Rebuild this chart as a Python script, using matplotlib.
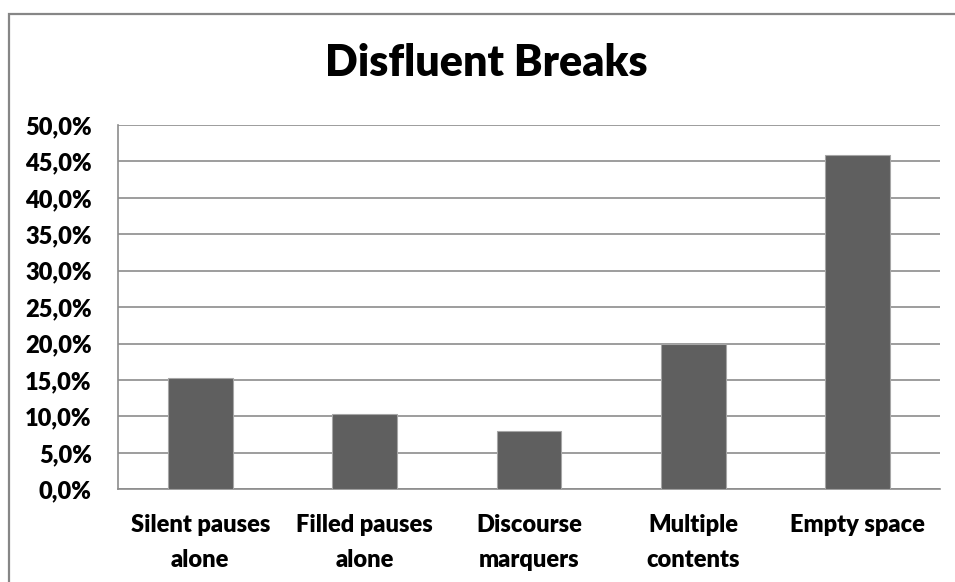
import matplotlib
matplotlib.use("Agg")
import matplotlib.pyplot as plt
from matplotlib.patches import Rectangle

categories = ["Silent pauses\nalone", "Filled pauses\nalone", "Discourse\nmarquers",
              "Multiple\ncontents", "Empty space"]
values = [15.3, 10.3, 8.05, 20.0, 45.9]
yticks = [0, 5, 10, 15, 20, 25, 30, 35, 40, 45, 50]
ytick_labels = [f"{v:.1f}".replace(".", ",") + "%" for v in yticks]
title = "Disfluent Breaks"

plt.rcParams['font.family'] = ['Lato', 'DejaVu Sans']

W, H = 955, 582
fig = plt.figure(figsize=(W / 100, H / 100), dpi=100)
ax = fig.add_axes([118 / W, 1 - 489.3 / H, (940 - 118) / W, (489.3 - 125) / H])

x = list(range(len(categories)))
ax.bar(x, values, width=0.395, color="#5f5f5f", edgecolor="#a6a6a6", linewidth=0.8, zorder=3)
ax.set_xlim(-0.5, len(categories) - 0.5)
ax.set_ylim(0, 50)
ax.set_yticks(yticks)
ax.set_yticklabels(ytick_labels, fontsize=17, fontweight="heavy")
ax.set_xticks(x)
ax.set_xticklabels(categories, fontsize=17, fontweight="heavy", linespacing=1.7)
ax.tick_params(axis="both", length=0)
ax.tick_params(axis="y", pad=19)
ax.tick_params(axis="x", pad=18)
ax.grid(axis="y", color="#8c8c8c", linewidth=1.2, zorder=0)
for s in ["top", "right"]:
    ax.spines[s].set_visible(False)
for s in ["left", "bottom"]:
    ax.spines[s].set_color("#8c8c8c")
    ax.spines[s].set_linewidth(1.2)

fig.text(486.5 / W, 1 - 76 / H, title, ha="center", va="baseline", fontsize=31, fontweight="heavy")

fig.patches.append(Rectangle((9 / W, -0.05), 1.1, 1 - 13.5 / H + 0.05, transform=fig.transFigure,
                             fill=False, edgecolor="#868686", linewidth=1.6, figure=fig))

fig.savefig("out.png", dpi=100)
